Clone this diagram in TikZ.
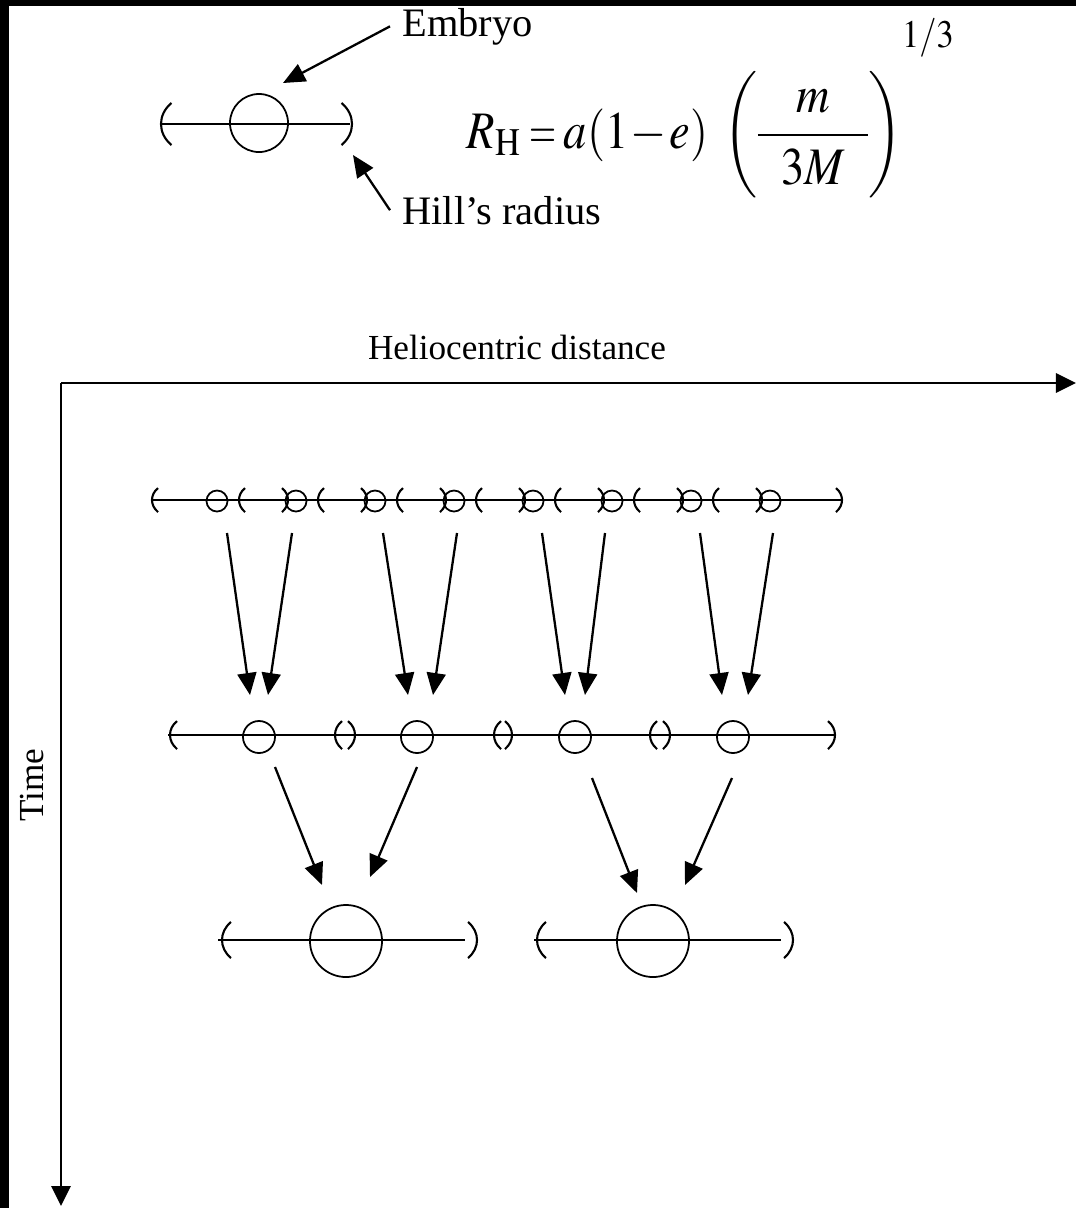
\documentclass[tikz,border=0pt]{standalone}
\usepackage{graphicx}
\usepackage{mathptmx}
\usepackage{fontspec}
\setmainfont{Liberation Serif}
\usetikzlibrary{arrows.meta}

\begin{document}
\begin{tikzpicture}[x=0.01cm, y=-0.01cm,
    axis/.style={line width=0.8pt, -{Triangle[length=0.2cm, width=0.19cm]}},
    flow/.style={line width=0.65pt, -{Triangle[length=0.22cm, width=0.19cm]}},
    hill/.style={line width=0.6pt},
    embryo/.style={circle, draw, line width=0.5pt, inner sep=0pt},
    lbl/.style={font=\fontsize{11.5}{13}\selectfont},
    axlbl/.style={font=\fontsize{10}{12}\selectfont},
    lhill/.pic={\draw[hill] (0.5,-1) .. controls (-0.167,-0.45) and (-0.167,0.45) .. (0.5,1);},
    rhill/.pic={\draw[hill] (-0.5,-1) .. controls (0.167,-0.45) and (0.167,0.45) .. (-0.5,1);}
  ]

  % --- Page and frame ---
  \useasboundingbox (0,0) rectangle (1076,1208);
  \fill[white] (0,0) rectangle (1076,1208);
  \fill[black] (0,0) rectangle (1076,6);
  \fill[black] (0,0) rectangle (9,1208);

  % --- Key: one embryo and its Hill sphere ---
  \draw[hill] (162,124) -- (350,124);
  \node[embryo, minimum size=0.58cm] (emb) at (259,123) {};
  \pic[scale=21] at (161,124) {lhill};
  \pic[scale=21] at (352,124) {rhill};
  \node[lbl, anchor=base west] (lblemb) at (390,36) {Embryo};
  \node[lbl, anchor=base west] (lblhill) at (390,224) {Hill’s radius};
  \coordinate (embtip) at (283,83);
  \coordinate (hilltip) at (353,155);
  \draw[flow] (lblemb.west) -- (embtip);
  \draw[flow] (lblhill.west) -- (hilltip);

  % --- Formula ---
  \node[font=\fontsize{15}{18}\selectfont, anchor=base west, inner sep=0pt] (rhformula) at (466,148)
    {\scalebox{0.88}[1]{$\thickmuskip=3mu \medmuskip=1mu \nulldelimiterspace=0pt \displaystyle
      R_{\mathrm{H}} \mathrel{\scalebox{0.75}[1]{$=$}} a(1-e)\mkern4mu
      \left(\rule[-14pt]{0pt}{36pt}\frac{m}{\mkern9mu 3M\mkern9mu}\right)^{\raisebox{11pt}{$\scriptstyle 1/3$}}$}};

  % --- Axes ---
  \coordinate (origin) at (61,383);
  \coordinate (xend) at (1076,383);
  \coordinate (tend) at (61,1206);
  \draw[axis] (origin) -- (xend);
  \draw[axis] (origin) -- (tend);
  \node[axlbl] (hdist) at (517,347) {Heliocentric distance};
  \node[axlbl, rotate=90] (time) at (32,785) {Time};

  % --- Row 1: eight embryos ---
  \draw[hill] (152,500) -- (842,500);
  \foreach \i in {1,...,8} {
    \pgfmathsetmacro\cx{217+79*(\i-1)}
    \node[embryo, minimum size=0.21cm] (a\i) at (\cx,501) {};
  }
  \foreach \x in {152,239,318,397,476,555,634,713}
    \pic[scale=12] at (\x,500) {lhill};
  \foreach \x in {288,367,446,525,604,683,762,842}
    \pic[scale=12] at (\x,500) {rhill};

  % --- Merging: row 1 -> row 2 ---
  \foreach \sx/\tx [count=\k] in {227/250, 292/268, 383/408, 457/433, 542/565, 605/585, 700/722, 773/748} {
    \coordinate (p\k) at (\sx,533);
    \coordinate (q\k) at (\tx,695);
    \draw[flow] (p\k) -- (q\k);
  }

  % --- Row 2: four embryos ---
  \draw[hill] (168,735) -- (836,735);
  \foreach \cx [count=\i] in {259,417,575,733}
    \node[embryo, minimum size=0.32cm] (b\i) at (\cx,737) {};
  \foreach \x in {170,335,494,650}
    \pic[scale=14] at (\x,735) {lhill};
  \foreach \x in {355,512,670,835}
    \pic[scale=14] at (\x,735) {rhill};

  % --- Merging: row 2 -> row 3 ---
  \foreach \sx/\sy/\tx/\ty [count=\k] in {275/767/322/885, 417/767/370/877, 592/778/637/893, 732/778/685/885} {
    \coordinate (r\k) at (\sx,\sy);
    \coordinate (s\k) at (\tx,\ty);
    \draw[flow] (r\k) -- (s\k);
  }

  % --- Row 3: two embryos ---
  \draw[hill] (218,940) -- (465,940);
  \draw[hill] (534,940) -- (781,940);
  \node[embryo, minimum size=0.72cm] (c1) at (346,941) {};
  \node[embryo, minimum size=0.72cm] (c2) at (653,941) {};
  \foreach \x in {222,537}
    \pic[scale=18] at (\x,940) {lhill};
  \foreach \x in {477,793}
    \pic[scale=18] at (\x,940) {rhill};

\end{tikzpicture}
\end{document}
